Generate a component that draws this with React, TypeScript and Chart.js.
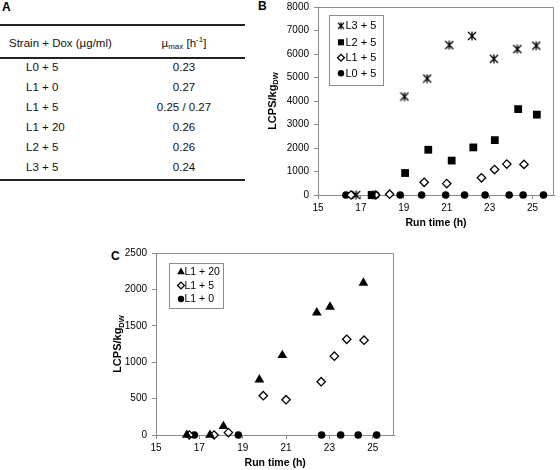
import React, { useEffect, useRef } from 'react';
import { Chart, registerables } from 'chart.js';
import { drawPoint } from 'chart.js/helpers';

Chart.register(...registerables);

const FONT = '"Liberation Sans", Arial, Helvetica, sans-serif';

// ---------- Panel A (table) ----------
const strains = ['L0 + 5', 'L1 + 0', 'L1 + 5', 'L1 + 20', 'L2 + 5', 'L3 + 5'];
const muMax = ['0.23', '0.27', '0.25 / 0.27', '0.26', '0.26', '0.24'];

// ---------- shared axes ----------
const xTickValues = [15, 17, 19, 21, 23, 25];
const X_MIN = 15;
const X_MAX = 26;
const xTitle = 'Run time (h)';
const yTitleMain = 'LCPS/kg';
const yTitleSub = 'DW';

// ---------- Panel B ----------
const bLabels = ['L3 + 5', 'L2 + 5', 'L1 + 5', 'L0 + 5'];
const bL3x = [16.78, 17.55, 19.03, 20.09, 21.12, 22.18, 23.2, 24.29, 25.17];
const bL3y = [0, 0, 4190, 4955, 6380, 6770, 5795, 6210, 6355];
const bL2x = [17.5, 19.06, 20.14, 21.23, 22.24, 23.24, 24.33, 25.2];
const bL2y = [0, 935, 1925, 1465, 2025, 2335, 3655, 3420];
const l15x = [16.54, 17.68, 18.34, 19.95, 21.0, 22.62, 23.23, 23.8, 24.6];
const l15y = [0, 0, 33, 540, 485, 732, 1083, 1315, 1303];
const bL0x = [16.3, 17.7, 18.83, 19.83, 20.95, 21.83, 22.79, 23.91, 24.56, 25.51];
const bL0y = [0, 0, 0, 0, 0, 0, 0, 0, 0, 0];
const bYMax = 8000;
const bYStep = 1000;

// ---------- Panel C ----------
const cLabels = ['L1 + 20', 'L1 + 5', 'L1 + 0'];
const cL20x = [16.42, 17.49, 18.11, 19.77, 20.83, 22.42, 23.03, 24.57];
const cL20y = [0, 0, 120, 760, 1095, 1680, 1760, 2090];
const cL0x = [16.77, 18.8, 22.64, 23.52, 24.33, 25.18];
const cL0y = [0, 0, 0, 0, 0, 0];
const cYMax = 2500;
const cYStep = 500;

function makeAsterisk(size: number, lw: number): HTMLCanvasElement {
  const c = document.createElement('canvas');
  c.width = size;
  c.height = size;
  const g = c.getContext('2d')!;
  g.strokeStyle = '#000';
  g.lineWidth = lw;
  const m = 1;
  g.beginPath();
  g.moveTo(m, m); g.lineTo(size - m, size - m);
  g.moveTo(size - m, m); g.lineTo(m, size - m);
  g.moveTo(size / 2, 0.5); g.lineTo(size / 2, size - 0.5);
  g.stroke();
  return c;
}

type Spec = {
  label: string;
  xs: number[];
  ys: number[];
  style: any;
  legendStyle: any;
  radius: number;
  legendRadius: number;
  fill: string;
  border: string;
  bw: number;
};

function toDataset(s: Spec) {
  return {
    label: s.label,
    data: s.xs.map((x, i) => ({ x, y: s.ys[i] })),
    pointStyle: s.style,
    pointRadius: s.radius,
    pointHoverRadius: s.radius,
    pointBackgroundColor: s.fill,
    pointBorderColor: s.border,
    pointBorderWidth: s.bw,
    showLine: false,
    clip: false as any,
  };
}

type Legend = { x: number; y: number; w: number; h: number; rows: number[]; markerX: number; textX: number; font: number };

type PanelProps = {
  left: number; top: number; width: number; height: number;
  specs: Spec[];
  yMax: number; yStep: number;
  padTop: number; padRight: number;
  yAxisW: number; xAxisH: number;
  yTitleX: number;
  legend: Legend;
};

function ScatterPanel(p: PanelProps) {
  const ref = useRef<HTMLCanvasElement | null>(null);
  useEffect(() => {
    if (!ref.current) return;
    const decor = {
      id: 'panelDecor',
      beforeDatasetsDraw(chart: any) {
        const { ctx, chartArea: a } = chart;
        ctx.save();
        ctx.strokeStyle = '#8c8c8c';
        ctx.lineWidth = 1;
        ctx.beginPath();
        ctx.moveTo(Math.round(a.left) + 0.5, Math.round(a.top) + 0.5);
        ctx.lineTo(Math.round(a.right) - 0.5, Math.round(a.top) + 0.5);
        ctx.lineTo(Math.round(a.right) - 0.5, Math.round(a.bottom) + 0.5);
        ctx.stroke();
        ctx.restore();
      },
      afterDatasetsDraw(chart: any) {
        const { ctx } = chart;
        const L = p.legend;
        ctx.save();
        ctx.fillStyle = '#fff';
        ctx.fillRect(L.x, L.y, L.w, L.h);
        ctx.strokeStyle = '#8c8c8c';
        ctx.lineWidth = 1;
        ctx.strokeRect(L.x + 0.5, L.y + 0.5, L.w, L.h);
        p.specs.forEach((s, i) => {
          const y = L.rows[i];
          ctx.fillStyle = s.fill;
          ctx.strokeStyle = s.border;
          ctx.lineWidth = s.bw;
          drawPoint(ctx, { pointStyle: s.legendStyle, radius: s.legendRadius, borderWidth: s.bw, rotation: 0 } as any, L.markerX, y);
          ctx.fillStyle = '#000';
          ctx.font = `${L.font}px ${FONT}`;
          ctx.textBaseline = 'middle';
          ctx.textAlign = 'left';
          ctx.fillText(s.label, L.textX, y + 0.5);
        });
        ctx.restore();
      },
      afterDraw(chart: any) {
        const { ctx, chartArea: a } = chart;
        ctx.save();
        ctx.translate(p.yTitleX, (a.top + a.bottom) / 2);
        ctx.rotate(-Math.PI / 2);
        const mainFont = `bold 11px ${FONT}`;
        const subFont = `bold 7.5px ${FONT}`;
        ctx.font = mainFont;
        const w1 = ctx.measureText(yTitleMain).width;
        ctx.font = subFont;
        const w2 = ctx.measureText(yTitleSub).width;
        const s = -(w1 + w2) / 2;
        ctx.fillStyle = '#000';
        ctx.textAlign = 'left';
        ctx.textBaseline = 'alphabetic';
        ctx.font = mainFont;
        ctx.fillText(yTitleMain, s, 0);
        ctx.font = subFont;
        ctx.fillText(yTitleSub, s + w1, 2.5);
        ctx.restore();
      },
    };

    const chart = new Chart(ref.current, {
      type: 'scatter',
      data: { datasets: p.specs.map(toDataset) as any },
      options: {
        animation: false,
        responsive: false,
        maintainAspectRatio: false,
        events: [],
        layout: { padding: { top: p.padTop, right: p.padRight, left: 0, bottom: 0 } },
        plugins: { legend: { display: false }, tooltip: { enabled: false } },
        scales: {
          x: {
            type: 'linear',
            min: X_MIN,
            max: X_MAX,
            afterBuildTicks: (s: any) => { s.ticks = xTickValues.map((v) => ({ value: v })); },
            afterFit: (s: any) => { s.height = p.xAxisH; },
            grid: { display: true, drawOnChartArea: false, drawTicks: true, tickLength: 4, color: '#8c8c8c' },
            border: { display: true, color: '#8c8c8c', width: 1 },
            ticks: { color: '#000', font: { family: FONT, size: 10 }, padding: 3, maxRotation: 0, autoSkip: false, callback: (v: any) => String(v) },
            title: { display: true, text: xTitle, color: '#000', font: { family: FONT, size: 10.5, weight: 'bold' }, padding: { top: 0, bottom: 0.5 } },
          },
          y: {
            type: 'linear',
            min: 0,
            max: p.yMax,
            afterFit: (s: any) => { s.width = p.yAxisW; },
            grid: { display: true, drawOnChartArea: false, drawTicks: true, tickLength: 4, color: '#8c8c8c' },
            border: { display: true, color: '#8c8c8c', width: 1 },
            ticks: { stepSize: p.yStep, color: '#000', font: { family: FONT, size: 10 }, padding: 5, callback: (v: any) => String(v) },
          },
        },
      } as any,
      plugins: [decor as any],
    });
    return () => chart.destroy();
  }, []);
  return (
    <canvas
      ref={ref}
      width={p.width}
      height={p.height}
      style={{ position: 'absolute', left: p.left, top: p.top, width: p.width, height: p.height, display: 'block' }}
    />
  );
}

const circle = 'circle';

export default function App() {
  const ast = makeAsterisk(10, 1.3);
  const astSmall = makeAsterisk(8, 1.2);

  const bSpecs: Spec[] = [
    { label: bLabels[0], xs: bL3x, ys: bL3y, style: ast, legendStyle: astSmall, radius: 5, legendRadius: 4, fill: '#000', border: '#000', bw: 1 },
    { label: bLabels[1], xs: bL2x, ys: bL2y, style: 'rect', legendStyle: 'rect', radius: 5.5, legendRadius: 4.3, fill: '#000', border: '#000', bw: 0 },
    { label: bLabels[2], xs: l15x, ys: l15y, style: 'rectRot', legendStyle: 'rectRot', radius: 4.2, legendRadius: 3.4, fill: '#fff', border: '#000', bw: 1.3 },
    { label: bLabels[3], xs: bL0x, ys: bL0y, style: circle, legendStyle: circle, radius: 3.8, legendRadius: 3.2, fill: '#000', border: '#000', bw: 0 },
  ];
  const cSpecs: Spec[] = [
    { label: cLabels[0], xs: cL20x, ys: cL20y, style: 'triangle', legendStyle: 'triangle', radius: 5.6, legendRadius: 4.4, fill: '#000', border: '#000', bw: 0 },
    { label: cLabels[1], xs: l15x, ys: l15y, style: 'rectRot', legendStyle: 'rectRot', radius: 4.2, legendRadius: 3.4, fill: '#fff', border: '#000', bw: 1.3 },
    { label: cLabels[2], xs: cL0x, ys: cL0y, style: circle, legendStyle: circle, radius: 3.8, legendRadius: 3.2, fill: '#000', border: '#000', bw: 0 },
  ];

  const txt: React.CSSProperties = { position: 'absolute', whiteSpace: 'nowrap', fontSize: 11.5, lineHeight: '20px', height: 20, color: '#111' };
  const panelLabel: React.CSSProperties = { position: 'absolute', fontSize: 12, fontWeight: 'bold', lineHeight: '12px', color: '#000' };

  return (
    <div style={{ position: 'absolute', left: 0, top: 0, width: 560, height: 470, overflow: 'hidden', background: '#fff', fontFamily: FONT }}>
      <div style={{ ...panelLabel, left: 2, top: 0.5 }}>A</div>
      <div style={{ ...panelLabel, left: 258, top: 0 }}>B</div>
      <div style={{ ...panelLabel, left: 111, top: 250 }}>C</div>

      {/* Table A */}
      <div style={{ position: 'absolute', left: 0, top: 24, width: 245, height: 2, background: '#222' }} />
      <div style={{ ...txt, left: 9, top: 33 }}>Strain + Dox (µg/ml)</div>
      <div style={{ ...txt, left: 134, width: 100, textAlign: 'center', top: 33 }}>
        µ<sub style={{ fontSize: 8, verticalAlign: '-2px', lineHeight: 0 }}>max</sub> [h<sup style={{ fontSize: 8, verticalAlign: '5px', lineHeight: 0 }}>-1</sup>]
      </div>
      <div style={{ position: 'absolute', left: 0, top: 57, width: 245, height: 2, background: '#222' }} />
      {strains.map((s, i) => (
        <React.Fragment key={s}>
          <div style={{ ...txt, left: 26, top: 57 + 20 * i }}>{s}</div>
          <div style={{ ...txt, left: 134, width: 100, textAlign: 'center', top: 57 + 20 * i }}>{muMax[i]}</div>
        </React.Fragment>
      ))}
      <div style={{ position: 'absolute', left: 0, top: 179, width: 245, height: 2, background: '#222' }} />

      <ScatterPanel
        left={255} top={-4} width={305} height={234}
        specs={bSpecs} yMax={bYMax} yStep={bYStep}
        padTop={8} padRight={2} yAxisW={63} xAxisH={35}
        yTitleX={20.5}
        legend={{ x: 74, y: 19, w: 54, h: 70, rows: [29.7, 46.3, 61.7, 77.3], markerX: 86, textX: 90.5, font: 11 }}
      />
      <ScatterPanel
        left={95} top={240} width={305} height={230}
        specs={cSpecs} yMax={cYMax} yStep={cYStep}
        padTop={13} padRight={4} yAxisW={61} xAxisH={35}
        yTitleX={26}
        legend={{ x: 74, y: 23, w: 54, h: 45, rows: [32, 45.5, 59], markerX: 86, textX: 89.5, font: 10.5 }}
      />
    </div>
  );
}
